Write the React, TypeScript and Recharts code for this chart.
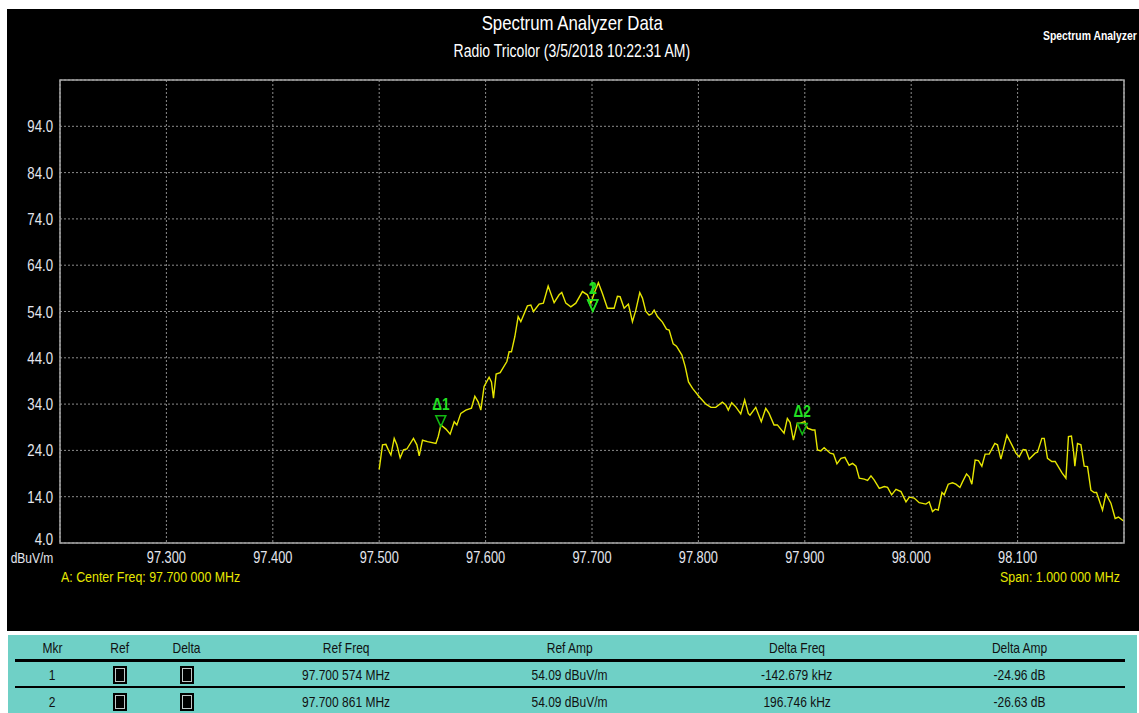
import React from "react";
import {
  ComposedChart,
  Line,
  Scatter,
  XAxis,
  YAxis,
  CartesianGrid,
  ReferenceArea,
} from "recharts";

// Sweep trace: frequency (MHz) and measured level (dBuV/m)
const FREQ_MHZ = [
  97.5, 97.5031, 97.5063, 97.5094, 97.511, 97.5141, 97.5166, 97.5197, 97.5228, 97.526,
  97.5322, 97.5354, 97.5376, 97.5407, 97.5454, 97.5533, 97.5555, 97.558, 97.5627, 97.5667,
  97.5705, 97.573, 97.5767, 97.5814, 97.5867, 97.5899, 97.593, 97.5955, 97.5986, 97.6033,
  97.6055, 97.6074, 97.6099, 97.6137, 97.62, 97.6221, 97.6243, 97.6275, 97.6306, 97.6331,
  97.6393, 97.6425, 97.645, 97.6503, 97.6543, 97.6588, 97.6644, 97.6691, 97.6716, 97.6754,
  97.6801, 97.6848, 97.691, 97.6957, 97.6989, 97.702, 97.706, 97.7098, 97.7145, 97.7208,
  97.7239, 97.7264, 97.7302, 97.7342, 97.738, 97.7412, 97.7449, 97.7474, 97.7506, 97.7537,
  97.7562, 97.7584, 97.7615, 97.7662, 97.77, 97.7725, 97.7763, 97.7794, 97.7845, 97.7876,
  97.7907, 97.7945, 97.8008, 97.8071, 97.8118, 97.8163, 97.8225, 97.8257, 97.8281, 97.8313,
  97.8351, 97.8398, 97.8435, 97.8469, 97.8485, 97.8539, 97.8591, 97.8633, 97.8664, 97.8711,
  97.8742, 97.8805, 97.8836, 97.8862, 97.8893, 97.893, 97.8956, 97.9, 97.9025, 97.9072,
  97.9095, 97.9119, 97.9151, 97.9182, 97.9239, 97.927, 97.9302, 97.934, 97.9377, 97.9417,
  97.9449, 97.9481, 97.9512, 97.9559, 97.959, 97.9622, 97.9653, 97.97, 97.9747, 97.9778,
  97.9816, 97.9857, 97.9904, 97.9951, 97.9982, 98.0028, 98.0075, 98.0138, 98.0169, 98.02,
  98.0226, 98.0254, 98.0289, 98.031, 98.0348, 98.0388, 98.042, 98.0458, 98.0482, 98.052,
  98.0545, 98.057, 98.0601, 98.0632, 98.0664, 98.0695, 98.0733, 98.0786, 98.0811, 98.0843,
  98.0899, 98.0946, 98.0984, 98.1015, 98.1052, 98.1078, 98.1109, 98.1165, 98.1187, 98.1228,
  98.125, 98.1281, 98.1322, 98.1353, 98.1416, 98.1454, 98.1478, 98.1506, 98.1527, 98.1538,
  98.1563, 98.1595, 98.1626, 98.1657, 98.1689, 98.172, 98.1742, 98.1798, 98.183, 98.1877,
  98.1917, 98.1948, 98.1992,
];

const LEVEL_DBUV = [
  19.9, 25.2, 25.3, 23.7, 23.0, 26.6, 25.2, 22.4, 24.1, 24.3,
  26.6, 25.2, 22.8, 26.2, 25.9, 25.5, 27.0, 29.5, 28.6, 27.5,
  30.2, 29.5, 32.0, 32.7, 33.1, 35.7, 34.5, 32.7, 37.8, 39.8,
  38.8, 35.3, 40.5, 40.8, 43.2, 45.3, 45.3, 48.6, 52.9, 51.8,
  55.2, 55.4, 54.0, 55.6, 55.8, 59.5, 55.9, 57.6, 58.1, 55.8,
  55.0, 55.8, 58.3, 57.6, 55.8, 57.9, 60.2, 57.9, 54.7, 54.7,
  57.3, 57.2, 54.7, 55.6, 51.8, 54.3, 58.1, 56.9, 54.0, 53.2,
  53.5, 54.3, 52.9, 51.7, 50.2, 50.0, 47.0, 46.5, 44.6, 42.1,
  38.8, 37.4, 35.6, 34.0, 33.3, 33.3, 34.4, 33.8, 32.7, 34.3,
  33.4, 31.9, 34.9, 32.0, 31.6, 33.3, 30.2, 33.1, 32.0, 29.5,
  29.5, 27.7, 30.9, 30.0, 26.2, 29.9, 29.9, 30.2, 28.8, 28.4,
  28.4, 24.1, 23.9, 24.6, 23.4, 23.2, 21.1, 22.3, 22.5, 20.8,
  21.2, 20.6, 18.0, 17.8, 17.5, 18.5, 17.6, 15.8, 16.2, 16.0,
  14.4, 15.6, 15.1, 12.9, 13.9, 13.7, 12.7, 12.4, 12.9, 10.8,
  11.3, 11.1, 14.9, 14.4, 16.7, 17.0, 16.7, 16.0, 17.2, 18.9,
  18.3, 16.7, 21.9, 21.8, 20.6, 23.2, 23.2, 25.5, 25.2, 22.1,
  27.3, 25.2, 23.4, 22.6, 24.2, 24.1, 22.1, 23.4, 23.6, 26.6,
  26.6, 22.3, 21.6, 21.6, 19.2, 18.0, 27.0, 27.1, 23.5, 20.6,
  25.5, 25.2, 20.6, 20.5, 15.4, 14.9, 14.9, 11.1, 14.6, 12.6,
  9.3, 9.6, 8.8,
];

// Axis ticks
const X_TICKS = [97.3, 97.4, 97.5, 97.6, 97.7, 97.8, 97.9, 98.0, 98.1];
const Y_TICKS = [4, 14, 24, 34, 44, 54, 64, 74, 84, 94];

// Marker table
const MKR = [1, 2];
const REF_FREQ_MHZ = [97.700574, 97.700861];
const REF_AMP_DBUV = [54.09, 54.09];
const DELTA_FREQ_KHZ = [-142.679, 196.746];
const DELTA_AMP_DB = [-24.96, -26.63];

const trace = FREQ_MHZ.map((f, i) => ({ f, v: LEVEL_DBUV[i] }));

// Reference markers and their delta markers, placed from the table values
const markers = [
  ...MKR.map((m, i) => ({ name: String(m), f: REF_FREQ_MHZ[i], v: REF_AMP_DBUV[i], delta: false })),
  ...MKR.map((m, i) => ({
    name: "\u0394" + m,
    f: REF_FREQ_MHZ[i] + DELTA_FREQ_KHZ[i] / 1000,
    v: REF_AMP_DBUV[i] + DELTA_AMP_DB[i],
    delta: true,
  })),
];

const FONT = "'Liberation Sans', Arial, sans-serif";
const SQUEEZE = 0.8; // the instrument software draws a condensed face
const TICK_COLOR = "#e4e6ee";
const YELLOW = "#e6e600";
const GREEN = "#22e022";
const TEAL = "#6fd0c6";

const fmtFreq = (f: number) => {
  const s = f.toFixed(6);
  return s.slice(0, s.length - 3) + " " + s.slice(s.length - 3) + " MHz";
};

const Narrow = ({ children, origin }: { children: React.ReactNode; origin: string }) => (
  <span style={{ display: "inline-block", transform: `scaleX(${SQUEEZE})`, transformOrigin: origin }}>{children}</span>
);

const YTick = (props: any) => {
  const { x, y, payload } = props;
  const v = Number(payload.value);
  const yy = v === 4 ? y - 4 : y;
  return (
    <g transform={`translate(${x},${yy}) scale(${SQUEEZE},1)`}>
      <text x={0} y={0} textAnchor="end" dominantBaseline="central" fill={TICK_COLOR} fontSize={16.5} fontFamily={FONT}>
        {v.toFixed(1)}
      </text>
    </g>
  );
};

const XTick = (props: any) => {
  const { x, y, payload } = props;
  return (
    <g transform={`translate(${x},${y + 14}) scale(${SQUEEZE},1)`}>
      <text x={0} y={0} textAnchor="middle" dominantBaseline="central" fill={TICK_COLOR} fontSize={16} fontFamily={FONT}>
        {Number(payload.value).toFixed(3)}
      </text>
    </g>
  );
};

const MarkerShape = (props: any) => {
  const { cx, cy, payload } = props;
  const top = cy - 11;
  return (
    <g>
      <path
        d={`M ${cx - 5} ${top} L ${cx + 5} ${top} L ${cx} ${cy} Z`}
        fill="none"
        stroke={payload.delta ? "#12b812" : GREEN}
        strokeWidth={1.5}
      />
      <g transform={`translate(${cx},${top - 12}) scale(${SQUEEZE},1)`}>
        <text
          x={0}
          y={0}
          textAnchor="middle"
          dominantBaseline="central"
          fill={GREEN}
          fontSize={17}
          fontWeight="bold"
          fontFamily={FONT}
        >
          {payload.name}
        </text>
      </g>
    </g>
  );
};

const COLS = [
  { key: "mkr", title: "Mkr", x: 52 },
  { key: "ref", title: "Ref", x: 120 },
  { key: "delta", title: "Delta", x: 187 },
  { key: "rf", title: "Ref Freq", x: 346 },
  { key: "ra", title: "Ref Amp", x: 570 },
  { key: "df", title: "Delta Freq", x: 797 },
  { key: "da", title: "Delta Amp", x: 1020 },
];

const cellText = (x: number, y: number, text: string, key: string) => (
  <div
    key={key}
    style={{
      position: "absolute",
      left: x - 100,
      width: 200,
      top: y - 10,
      height: 20,
      lineHeight: "20px",
      textAlign: "center",
      fontSize: 15,
      color: "#111",
      whiteSpace: "nowrap",
    }}
  >
    <Narrow origin="center">{text}</Narrow>
  </div>
);

const CheckBox = ({ x, y }: { x: number; y: number }) => (
  <div
    style={{
      position: "absolute",
      left: x - 7,
      top: y - 9,
      width: 14,
      height: 18,
      background: "#000",
      boxSizing: "border-box",
      padding: 2,
    }}
  >
    <div style={{ width: "100%", height: "100%", boxSizing: "border-box", border: "1px solid #bfc8c8" }} />
  </div>
);

export default function App() {
  const rowY = [675, 702];
  return (
    <div
      style={{
        position: "absolute",
        left: 0,
        top: 0,
        width: 1139,
        height: 713,
        background: "#fff",
        overflow: "hidden",
        fontFamily: FONT,
      }}
    >
      {/* instrument panel */}
      <div style={{ position: "absolute", left: 7, top: 9, width: 1132, height: 622, background: "#000" }} />

      <div
        style={{
          position: "absolute",
          left: 372,
          width: 400,
          top: 11,
          textAlign: "center",
          color: "#fff",
          fontSize: 21,
          lineHeight: "24px",
          whiteSpace: "nowrap",
        }}
      >
        <Narrow origin="center">Spectrum Analyzer Data</Narrow>
      </div>
      <div
        style={{
          position: "absolute",
          left: 322,
          width: 500,
          top: 41,
          textAlign: "center",
          color: "#fff",
          fontSize: 17.5,
          lineHeight: "20px",
          whiteSpace: "nowrap",
        }}
      >
        <Narrow origin="center">Radio Tricolor (3/5/2018 10:22:31 AM)</Narrow>
      </div>
      <div
        style={{
          position: "absolute",
          left: 1043,
          top: 28,
          color: "#fff",
          fontSize: 13,
          fontWeight: "bold",
          whiteSpace: "nowrap",
          lineHeight: "16px",
        }}
      >
        <Narrow origin="left">Spectrum Analyzer</Narrow>
      </div>

      <div style={{ position: "absolute", left: 0, top: 0 }}>
        <ComposedChart width={1139} height={631} margin={{ top: 80, right: 15, bottom: 58, left: 0 }}>
          <CartesianGrid stroke="#8c8c8c" strokeDasharray="2 2" strokeWidth={1} />
          <XAxis
            type="number"
            dataKey="f"
            domain={[97.2, 98.2]}
            ticks={X_TICKS}
            allowDataOverflow
            axisLine={false}
            tickLine={false}
            tickSize={0}
            tickMargin={0}
            height={30}
            tick={<XTick />}
          />
          <YAxis
            type="number"
            dataKey="v"
            domain={[4, 104]}
            ticks={Y_TICKS}
            allowDataOverflow
            axisLine={false}
            tickLine={false}
            tickSize={0}
            tickMargin={7}
            width={60}
            tick={<YTick />}
          />
          <ReferenceArea
            x1={97.2}
            x2={98.2}
            y1={4}
            y2={104}
            fill="none"
            fillOpacity={0}
            stroke="#a6a6a6"
            strokeWidth={1.5}
            ifOverflow="visible"
          />
          <Line
            data={trace}
            dataKey="v"
            type="linear"
            stroke={YELLOW}
            strokeWidth={1.4}
            dot={false}
            activeDot={false}
            isAnimationActive={false}
          />
          <Scatter data={markers} dataKey="v" shape={<MarkerShape />} isAnimationActive={false} />
        </ComposedChart>
      </div>

      <div
        style={{
          position: "absolute",
          right: 1139 - 53,
          top: 550,
          color: TICK_COLOR,
          fontSize: 15,
          lineHeight: "15px",
          whiteSpace: "nowrap",
        }}
      >
        <Narrow origin="right">dBuV/m</Narrow>
      </div>
      <div
        style={{
          position: "absolute",
          left: 61,
          top: 569,
          color: YELLOW,
          fontSize: 15.5,
          lineHeight: "16px",
          whiteSpace: "nowrap",
        }}
      >
        <Narrow origin="left">A: Center Freq: 97.700 000 MHz</Narrow>
      </div>
      <div
        style={{
          position: "absolute",
          right: 1139 - 1120,
          top: 569,
          color: YELLOW,
          fontSize: 15.5,
          lineHeight: "16px",
          whiteSpace: "nowrap",
        }}
      >
        <Narrow origin="right">Span: 1.000 000 MHz</Narrow>
      </div>

      {/* marker table */}
      <div style={{ position: "absolute", left: 8, top: 635, width: 1129, height: 78, background: TEAL }} />
      <div style={{ position: "absolute", left: 15, top: 659, width: 1110, height: 3, background: "#000" }} />
      <div style={{ position: "absolute", left: 15, top: 686, width: 1110, height: 1.5, background: "#000" }} />
      {COLS.map((c) => cellText(c.x, 648, c.title, "h" + c.key))}
      {MKR.map((m, i) => (
        <React.Fragment key={"r" + m}>
          {cellText(COLS[0].x, rowY[i], String(m), "m" + i)}
          <CheckBox x={COLS[1].x} y={rowY[i]} />
          <CheckBox x={COLS[2].x} y={rowY[i]} />
          {cellText(COLS[3].x, rowY[i], fmtFreq(REF_FREQ_MHZ[i]), "rf" + i)}
          {cellText(COLS[4].x, rowY[i], REF_AMP_DBUV[i].toFixed(2) + " dBuV/m", "ra" + i)}
          {cellText(COLS[5].x, rowY[i], DELTA_FREQ_KHZ[i].toFixed(3) + " kHz", "df" + i)}
          {cellText(COLS[6].x, rowY[i], DELTA_AMP_DB[i].toFixed(2) + " dB", "da" + i)}
        </React.Fragment>
      ))}
    </div>
  );
}
